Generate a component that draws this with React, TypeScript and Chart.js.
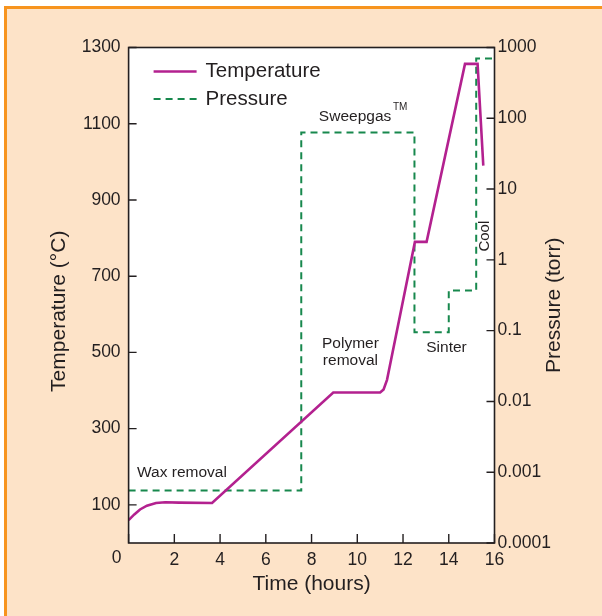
import React, { useEffect, useRef } from "react";
import { Chart, registerables } from "chart.js";

Chart.register(...registerables);

// ---- data ----
const tempHours = [0, 0.25, 0.5, 0.8, 1.2, 1.6, 2.2, 3.65, 8.95, 11.0, 11.15, 11.3, 12.52, 13.03, 14.71, 15.26, 15.51];
const tempC = [60, 75, 88, 98, 105, 107, 106, 105, 395, 395, 403, 428, 790, 790, 1257, 1257, 990];

const pressHours = [0, 7.55, 7.55, 12.5, 12.5, 14.0, 14.0, 15.2, 15.2, 16];
const pressTorr = [0.00055, 0.00055, 63, 63, 0.095, 0.095, 0.37, 0.37, 700, 700];

const xTicks = [0, 2, 4, 6, 8, 10, 12, 14, 16];
const tempTicks = [100, 300, 500, 700, 900, 1100, 1300];
const pressTicks = [0.0001, 0.001, 0.01, 0.1, 1, 10, 100, 1000];

const seriesNames = ["Temperature", "Pressure"];
const xTitle = "Time (hours)";
const yTitle = "Temperature (°C)";
const y2Title = "Pressure (torr)";

const FONT = "'Liberation Sans', Arial, Helvetica, sans-serif";
const INK = "#231F20";
const MAGENTA = "#B3218F";
const GREEN = "#17884D";

const overlay = {
  id: "overlay",
  beforeDraw(chart: any) {
    const { ctx, chartArea: a } = chart;
    ctx.save();
    ctx.fillStyle = "#ffffff";
    ctx.fillRect(a.left, a.top, a.right - a.left, a.bottom - a.top);
    ctx.restore();
  },
  afterDatasetsDraw(chart: any) {
    const { ctx, chartArea: a, scales } = chart;
    const x = scales.x, y = scales.y, y2 = scales.y2;
    ctx.save();
    // frame
    ctx.strokeStyle = INK;
    ctx.lineWidth = 1.6;
    ctx.strokeRect(a.left, a.top, a.right - a.left, a.bottom - a.top);
    // inward tick marks
    ctx.lineWidth = 1.4;
    ctx.beginPath();
    xTicks.forEach((v) => {
      const px = x.getPixelForValue(v);
      ctx.moveTo(px, a.bottom);
      ctx.lineTo(px, a.bottom - 9);
    });
    tempTicks.forEach((v) => {
      const py = y.getPixelForValue(v);
      ctx.moveTo(a.left, py);
      ctx.lineTo(a.left + 8, py);
    });
    pressTicks.forEach((v) => {
      const py = y2.getPixelForValue(v);
      ctx.moveTo(a.right, py);
      ctx.lineTo(a.right - 8, py);
    });
    ctx.stroke();

    // origin "0" label
    ctx.fillStyle = INK;
    ctx.font = `17.5px ${FONT}`;
    ctx.textAlign = "right";
    ctx.textBaseline = "middle";
    ctx.fillText("0", a.left - 7, a.bottom + 15);

    // axis titles
    ctx.font = `21px ${FONT}`;
    ctx.textAlign = "center";
    ctx.textBaseline = "middle";
    ctx.fillText(xTitle, (a.left + a.right) / 2, a.bottom + 41);
    ctx.save();
    ctx.translate(a.left - 69, (a.top + a.bottom) / 2 + 16);
    ctx.rotate(-Math.PI / 2);
    ctx.fillText(yTitle, 0, 0);
    ctx.restore();
    ctx.save();
    ctx.translate(a.right + 60, (a.top + a.bottom) / 2 + 10);
    ctx.rotate(-Math.PI / 2);
    ctx.fillText(y2Title, 0, 0);
    ctx.restore();

    // annotations
    ctx.font = `15.5px ${FONT}`;
    ctx.textBaseline = "alphabetic";
    ctx.textAlign = "left";
    ctx.fillText("Wax removal", x.getPixelForValue(0.37), y.getPixelForValue(172));
    ctx.fillText("Sweepgas", x.getPixelForValue(8.32), y.getPixelForValue(1108));
    ctx.font = `10px ${FONT}`;
    ctx.fillText("TM", x.getPixelForValue(11.56), y.getPixelForValue(1136));
    ctx.font = `15.5px ${FONT}`;
    ctx.textAlign = "center";
    ctx.fillText("Polymer", x.getPixelForValue(9.7), y.getPixelForValue(512));
    ctx.fillText("removal", x.getPixelForValue(9.7), y.getPixelForValue(467));
    ctx.fillText("Sinter", x.getPixelForValue(13.9), y.getPixelForValue(501));
    ctx.save();
    ctx.font = `15px ${FONT}`;
    ctx.translate(x.getPixelForValue(15.58), y.getPixelForValue(805));
    ctx.rotate(-Math.PI / 2);
    ctx.textBaseline = "middle";
    ctx.fillText("Cool", 0, 0);
    ctx.restore();

    // legend
    const ds = chart.data.datasets;
    const rows = [a.top + 24, a.top + 51.5];
    ds.forEach((d: any, i: number) => {
      ctx.save();
      ctx.strokeStyle = d.borderColor;
      ctx.lineWidth = d.borderWidth;
      ctx.setLineDash(d.borderDash || []);
      ctx.beginPath();
      ctx.moveTo(a.left + 25, rows[i]);
      ctx.lineTo(a.left + 68, rows[i]);
      ctx.stroke();
      ctx.restore();
      ctx.fillStyle = INK;
      ctx.font = `20.5px ${FONT}`;
      ctx.textAlign = "left";
      ctx.textBaseline = "middle";
      ctx.fillText(d.label, a.left + 77, rows[i]);
    });
    ctx.restore();
  },
};

export default function App() {
  const ref = useRef<HTMLCanvasElement | null>(null);
  useEffect(() => {
    document.body.style.margin = "0";
    const canvas = ref.current!;
    const chart = new Chart(canvas, {
      type: "line",
      data: {
        datasets: [
          {
            label: seriesNames[0],
            data: tempHours.map((h, i) => ({ x: h, y: tempC[i] })),
            borderColor: MAGENTA,
            borderWidth: 2.6,
            pointRadius: 0,
            tension: 0,
            yAxisID: "y",
            fill: false,
          },
          {
            label: seriesNames[1],
            data: pressHours.map((h, i) => ({ x: h, y: pressTorr[i] })),
            borderColor: GREEN,
            borderWidth: 2,
            borderDash: [7, 5],
            pointRadius: 0,
            tension: 0,
            yAxisID: "y2",
            fill: false,
          },
        ],
      },
      options: {
        animation: false,
        responsive: false,
        devicePixelRatio: 1,
        layout: { padding: { top: 47.5, left: 0, right: 0, bottom: 0 } },
        plugins: { legend: { display: false }, tooltip: { enabled: false } },
        scales: {
          x: {
            type: "linear",
            position: "bottom",
            min: 0,
            max: 16,
            grid: { display: false, drawTicks: false },
            border: { display: false },
            afterBuildTicks: (s: any) => {
              s.ticks = xTicks.map((v) => ({ value: v }));
            },
            afterFit: (s: any) => {
              s.height = 73;
            },
            ticks: {
              autoSkip: false,
              maxRotation: 0,
              padding: 7,
              color: INK,
              font: { family: FONT, size: 17.5 },
              callback: (v: any) => (v === 0 ? "" : String(v)),
            },
          },
          y: {
            type: "linear",
            position: "left",
            min: 0,
            max: 1300,
            grid: { display: false, drawTicks: false },
            border: { display: false },
            afterBuildTicks: (s: any) => {
              s.ticks = tempTicks.map((v) => ({ value: v }));
            },
            afterFit: (s: any) => {
              s.width = 128.6;
            },
            ticks: {
              padding: 8,
              color: INK,
              font: { family: FONT, size: 17.5 },
              callback: (v: any) => String(v),
            },
          },
          y2: {
            type: "logarithmic",
            position: "right",
            min: 0.0001,
            max: 1000,
            grid: { display: false, drawTicks: false },
            border: { display: false },
            afterBuildTicks: (s: any) => {
              s.ticks = pressTicks.map((v) => ({ value: v }));
            },
            afterFit: (s: any) => {
              s.width = 107.5;
            },
            ticks: {
              padding: 3,
              color: INK,
              font: { family: FONT, size: 17.5 },
              callback: (v: any) => String(v),
            },
          },
        },
      },
      plugins: [overlay],
    } as any);
    return () => chart.destroy();
  }, []);

  return (
    <div style={{ position: "relative", width: 602, height: 616, overflow: "hidden", background: "#ffffff" }}>
      <div
        style={{
          position: "absolute",
          left: 4,
          top: 6,
          width: 620,
          height: 630,
          borderTop: "3px solid #F7941E",
          borderLeft: "3px solid #F7941E",
          background: "#FDE3C8",
        }}
      />
      <canvas ref={ref} width={602} height={616} style={{ position: "absolute", left: 0, top: 0 }} />
    </div>
  );
}
